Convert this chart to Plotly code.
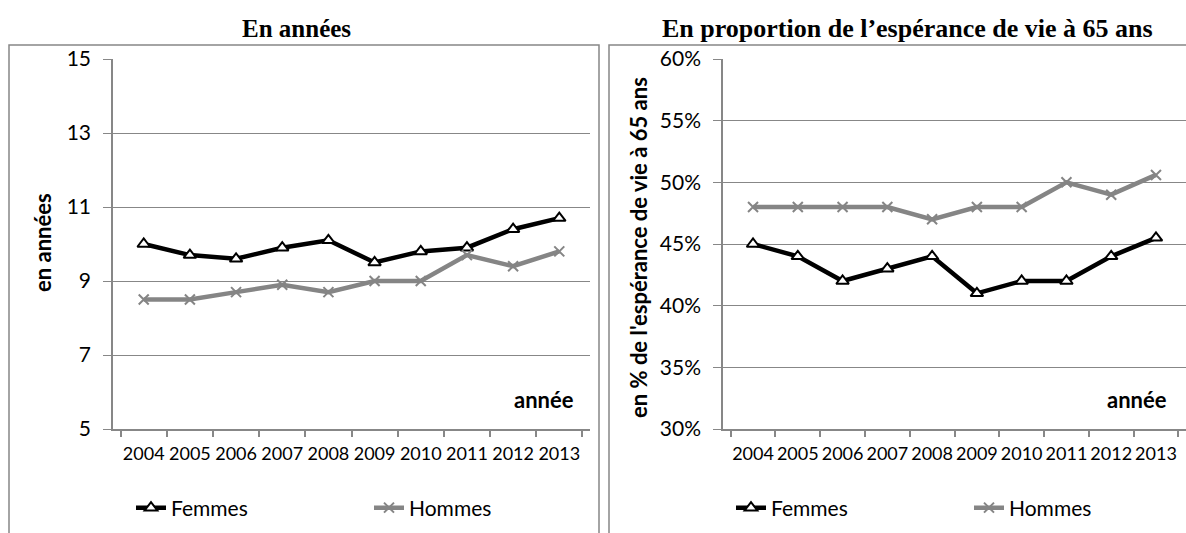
import plotly.graph_objects as go

# Données
annees = ['2004', '2005', '2006', '2007', '2008', '2009', '2010', '2011', '2012', '2013']
femmes_annees = [10.0, 9.7, 9.6, 9.9, 10.1, 9.5, 9.8, 9.9, 10.4, 10.7]
hommes_annees = [8.5, 8.5, 8.7, 8.9, 8.7, 9.0, 9.0, 9.7, 9.4, 9.8]
femmes_pct = [0.45, 0.44, 0.42, 0.43, 0.44, 0.41, 0.42, 0.42, 0.44, 0.455]
hommes_pct = [0.48, 0.48, 0.48, 0.48, 0.47, 0.48, 0.48, 0.50, 0.49, 0.506]

W, H = 1186, 533
GRIS = '#878787'
NOIR = '#000000'
GRIS_H = '#858585'
POLICE = 'Lato'


def px_x(v):
    return v / W


def px_y(v):
    return 1 - v / H


def note(texte, x, y, taille, police=POLICE, angle=0):
    return dict(text=texte, xref='paper', yref='paper', x=px_x(x), y=px_y(y),
                xanchor='center', yanchor='middle', textangle=angle,
                showarrow=False, font=dict(family=police, size=taille, color='black'))


fig = go.Figure()

# Femmes / Hommes - en années
fig.add_trace(go.Scatter(
    x=annees, y=femmes_annees, name='Femmes', mode='lines+markers',
    line=dict(color=NOIR, width=4.5),
    marker=dict(symbol='triangle-up', size=11, color='white',
                line=dict(color=NOIR, width=2)),
    xaxis='x', yaxis='y', legend='legend'
))
fig.add_trace(go.Scatter(
    x=annees, y=hommes_annees, name='Hommes', mode='lines+markers',
    line=dict(color=GRIS_H, width=4.5),
    marker=dict(symbol='x-thin', size=10, color=GRIS_H,
                line=dict(color=GRIS_H, width=2)),
    xaxis='x', yaxis='y', legend='legend'
))

# Femmes / Hommes - en proportion
fig.add_trace(go.Scatter(
    x=annees, y=femmes_pct, name='Femmes', mode='lines+markers',
    line=dict(color=NOIR, width=4.5),
    marker=dict(symbol='triangle-up', size=11, color='white',
                line=dict(color=NOIR, width=2)),
    xaxis='x2', yaxis='y2', legend='legend2'
))
fig.add_trace(go.Scatter(
    x=annees, y=hommes_pct, name='Hommes', mode='lines+markers',
    line=dict(color=GRIS_H, width=4.5),
    marker=dict(symbol='x-thin', size=10, color=GRIS_H,
                line=dict(color=GRIS_H, width=2)),
    xaxis='x2', yaxis='y2', legend='legend2'
))

axe_x = dict(
    type='category', tickson='boundaries', ticks='outside', ticklen=6,
    tickcolor=GRIS, tickwidth=1.5, showline=True, linecolor=GRIS, linewidth=1.5,
    showgrid=False, zeroline=False, fixedrange=True, automargin=False,
    tickangle=0, ticklabelstandoff=8,
    tickfont=dict(family=POLICE, size=18, color='black'),
)
axe_y = dict(
    showgrid=True, gridcolor=GRIS, gridwidth=1.2, ticks='outside', ticklen=8,
    tickcolor=GRIS, tickwidth=1.2, showline=True, linecolor=GRIS, linewidth=1.5,
    zeroline=False, fixedrange=True, automargin=False, ticklabelstandoff=8,
    tickfont=dict(family=POLICE, size=21, color='black'),
)
leg = dict(orientation='h', y=px_y(508), yanchor='middle', xanchor='left',
           entrywidth=193, entrywidthmode='pixels',
           font=dict(family=POLICE, size=21, color='black'),
           bgcolor='rgba(0,0,0,0)')

fig.update_layout(
    width=W, height=H, autosize=False,
    margin=dict(l=0, r=0, t=0, b=0, autoexpand=False),
    paper_bgcolor='white', plot_bgcolor='white',
    xaxis=dict(axe_x, domain=[px_x(113), px_x(590)], anchor='y'),
    yaxis=dict(axe_y, domain=[px_y(429), px_y(59)], range=[5, 15], dtick=2,
               tick0=5, anchor='x'),
    xaxis2=dict(axe_x, domain=[px_x(723), 1.0], anchor='y2'),
    yaxis2=dict(axe_y, domain=[px_y(429), px_y(59)], range=[0.30, 0.60],
                dtick=0.05, tick0=0.30, tickformat='.0%', anchor='x2'),
    legend=dict(leg, x=px_x(131)),
    legend2=dict(leg, x=px_x(731)),
    shapes=[
        dict(type='rect', xref='paper', yref='paper', x0=px_x(9), x1=px_x(599),
             y0=-0.1, y1=px_y(45), line=dict(color=GRIS, width=1.5)),
        dict(type='rect', xref='paper', yref='paper', x0=px_x(609), x1=1.05,
             y0=-0.1, y1=px_y(45), line=dict(color=GRIS, width=1.5)),
    ],
    annotations=[
        note('<b>En années</b>', 296, 28, 25, 'Liberation Serif'),
        note('<b>En proportion de l’espérance de vie à 65 ans</b>', 907, 28, 26,
             'Liberation Serif'),
        note('<b>en années</b>', 42, 243, 22, angle=-90),
        note("<b>en % de l'espérance de vie à 65 ans</b>", 638, 248, 22, angle=-90),
        note('<b>année</b>', 544, 399, 22),
        note('<b>année</b>', 1137, 399, 22),
    ],
)

fig.write_html('out.html', config={'displayModeBar': False},
               post_script="document.body.style.margin = '0';")
